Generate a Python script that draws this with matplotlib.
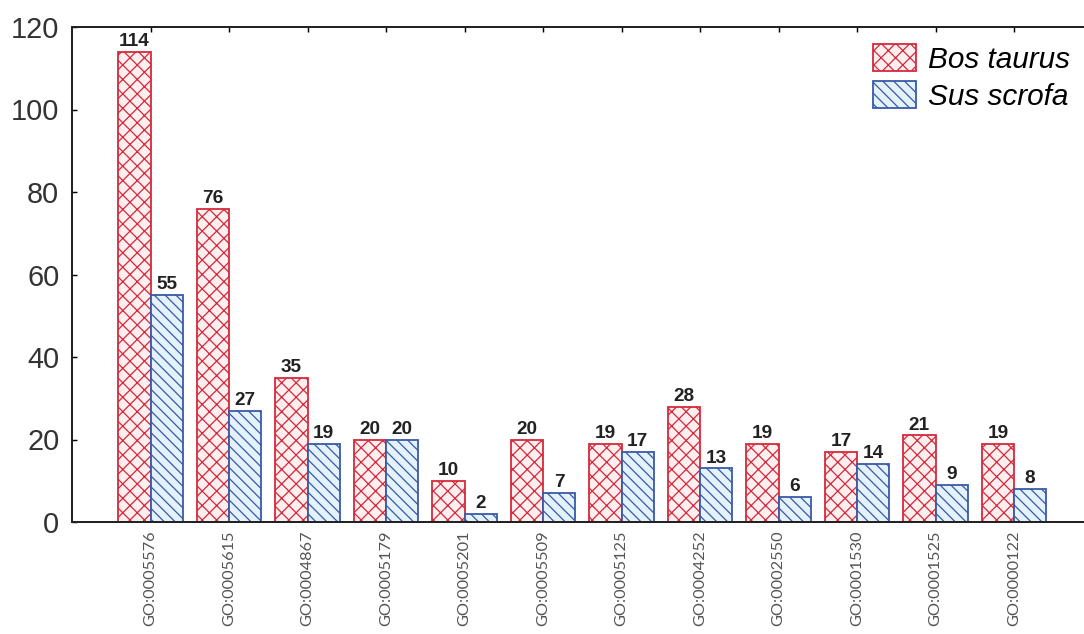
import matplotlib
matplotlib.use("Agg")
import matplotlib.pyplot as plt
import numpy as np

# GO terms and counts per species
go_terms = ["GO:0005576", "GO:0005615", "GO:0004867", "GO:0005179",
            "GO:0005201", "GO:0005509", "GO:0005125", "GO:0004252",
            "GO:0002550", "GO:0001530", "GO:0001525", "GO:0000122"]
bos_taurus = [114, 76, 35, 20, 10, 20, 19, 28, 19, 17, 21, 19]
sus_scrofa = [55, 27, 19, 20, 2, 7, 17, 13, 6, 14, 9, 8]

DPI = 130
plt.rcParams['font.family'] = ['Liberation Sans', 'DejaVu Sans']
plt.rcParams['hatch.linewidth'] = 0.7

fig = plt.figure(figsize=(1084 / DPI, 634 / DPI), dpi=DPI)
# axes runs a bit past the right edge like in the original
ax = fig.add_axes([72 / 1084, 1 - 522 / 634, 1020.5 / 1084, 495 / 634])

x = np.arange(len(go_terms))
w = 0.41

red_bars = ax.bar(x - w / 2, bos_taurus, w, facecolor='#fdeef0', edgecolor='#d42a3a',
                  hatch='xxx', linewidth=1.0, label='Bos taurus')
blue_bars = ax.bar(x + w / 2, sus_scrofa, w, facecolor='#e4f2fb', edgecolor='#3a5aa8',
                   hatch='\\\\\\\\', linewidth=1.0, label='Sus scrofa')

# value labels above bars
for bars in (red_bars, blue_bars):
    ax.bar_label(bars, padding=1, fontsize=10.5, fontweight='bold', color='#222222')

ax.set_xlim(-1, 12)
ax.set_ylim(0, 120)
ax.set_yticks([0, 20, 40, 60, 80, 100, 120])
ax.set_xticks(x)
ax.set_xticklabels(go_terms, rotation=90, fontsize=9.1, color='#555555',
                   family=['Lato', 'DejaVu Sans'])

ax.tick_params(axis='x', bottom=False, top=True, direction='in', length=3, pad=4.5)
ax.tick_params(axis='y', left=True, right=True, direction='in', length=3,
               labelsize=16, labelcolor='#333333', pad=7)

for side in ['left', 'bottom', 'top', 'right']:
    ax.spines[side].set_linewidth(1.1)
    ax.spines[side].set_color('#222222')

ax.legend(loc='upper left', bbox_to_anchor=(873 / 1084, 1 - 44 / 634),
          bbox_transform=fig.transFigure, frameon=False, borderpad=0,
          borderaxespad=0, handlelength=1.45, handleheight=1.0,
          handletextpad=0.4, labelspacing=0.25,
          prop={'style': 'italic', 'size': 16.5})

fig.savefig("out.png", dpi=DPI)
